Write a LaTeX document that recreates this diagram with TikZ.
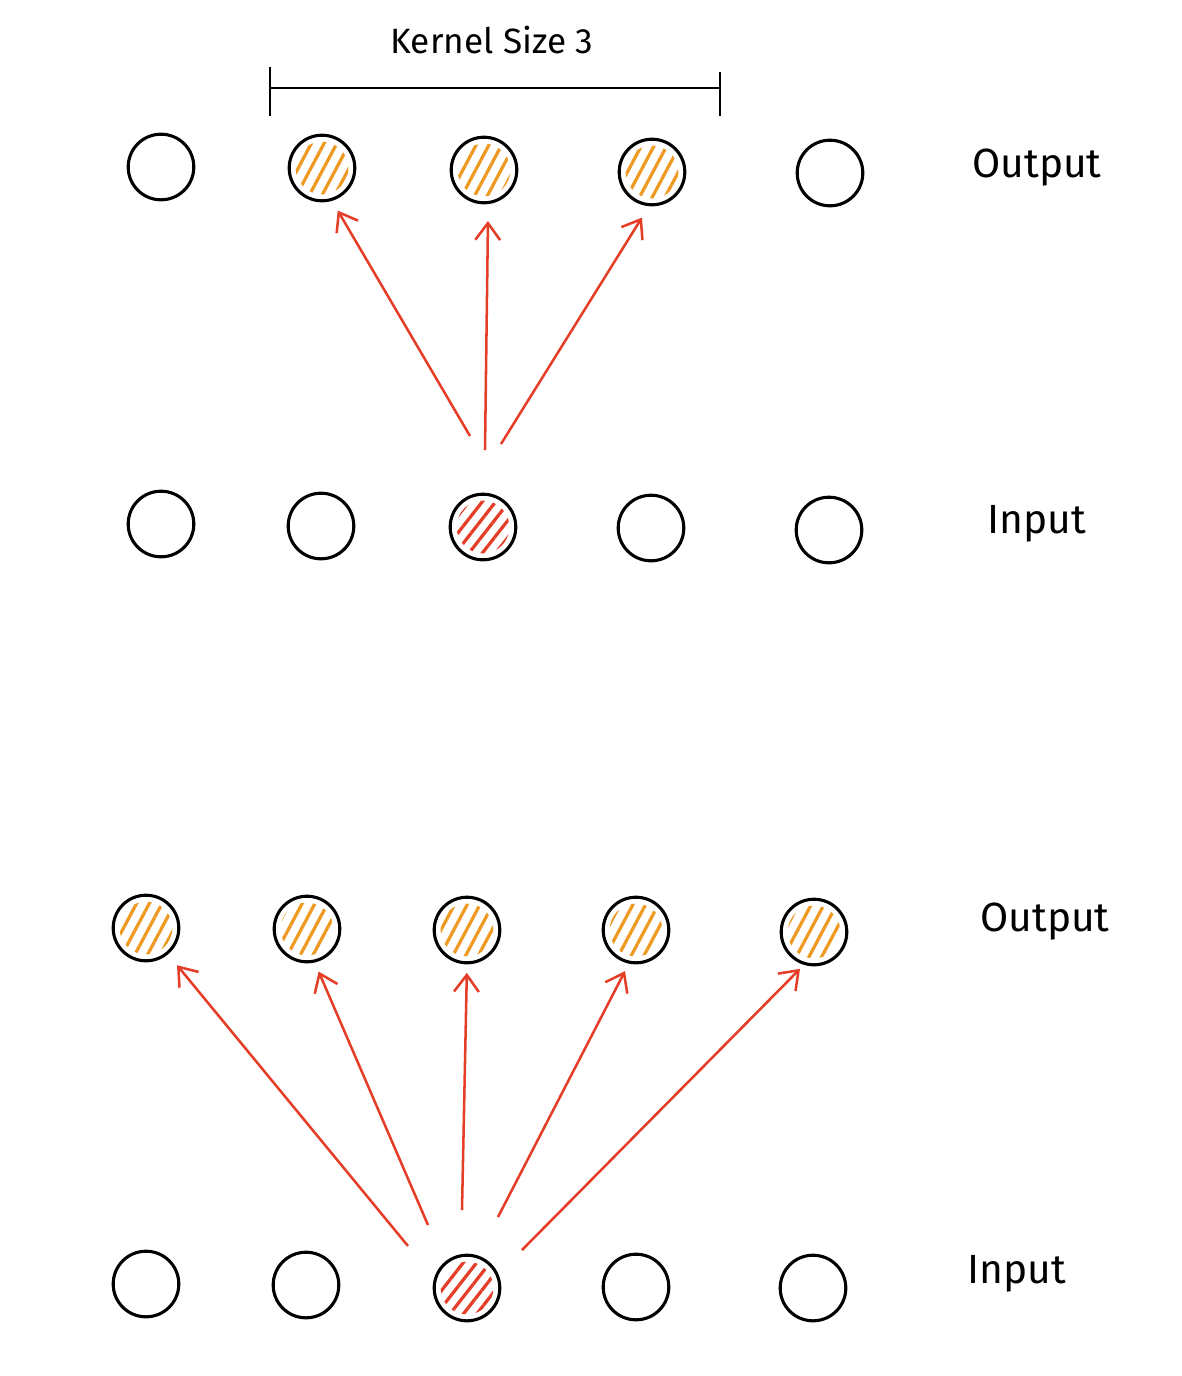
\documentclass[tikz,border=0pt]{standalone}
\usepackage{fontspec}
\setmainfont{Fira Sans}
\usepackage{tikz}
\usetikzlibrary{arrows.meta, patterns.meta}
\definecolor{hatchorange}{RGB}{238,154,34}
\definecolor{arrowred}{RGB}{228,62,40}

\begin{document}
\begin{tikzpicture}[x=0.025cm, y=-0.025cm,
    cell/.style={circle, draw=black, line width=2.2pt, minimum size=1.64cm, inner sep=0pt},
    outcell/.style={cell, path picture={\fill[pattern={Lines[angle=62, distance=8pt, line width=2.3pt]}, pattern color=hatchorange]
      (path picture bounding box.center) circle (0.66cm);}},
    incell/.style={cell, path picture={\fill[pattern={Lines[angle=52, distance=7.5pt, line width=2.3pt]}, pattern color=arrowred]
      (path picture bounding box.center) circle (0.66cm);}},
    lbl/.style={font=\fontsize{29}{34}\selectfont},
    conn/.style={draw=arrowred, line width=1.8pt, -{Straight Barb[length=4.2mm, width=6.2mm, line width=1.8pt]}}
  ]
    \useasboundingbox (0,0) rectangle (1182,1376);

    % kernel bracket
    \coordinate (kl) at (270,88);
    \coordinate (kr) at (720,88);
    \draw[line width=2pt] (270,67) -- (270,116);
    \draw[line width=2pt] (720,72) -- (720,116);
    \draw[line width=2pt] (kl) -- (kr);
    \node[lbl, font=\fontsize{25}{30}\selectfont] (ks) at (492,40) {Kernel Size 3};

    % top part
    \node[cell] (a1) at (161,167) {};
    \node[outcell] (a2) at (322,168) {};
    \node[outcell] (a3) at (484,170) {};
    \node[outcell] (a4) at (652,172) {};
    \node[cell] (a5) at (830,173) {};
    \node[cell] (b1) at (161,524) {};
    \node[cell] (b2) at (321,526) {};
    \node[incell] (b3) at (483,527) {};
    \node[cell] (b4) at (651,528) {};
    \node[cell] (b5) at (829,530) {};
    \node[lbl] (aout) at (1037,168) {Output};
    \node[lbl] (bin) at (1037,524) {Input};

    \coordinate (t1) at (470,436);
    \coordinate (t2) at (485,450);
    \coordinate (t3) at (501,444);
    \draw[conn, shorten >=8pt] (t1) -- (a2.-73);
    \draw[conn, shorten >=12pt] (t2) -- (a3.-83);
    \draw[conn, shorten >=9.5pt] (t3) -- (a4.-95);

    % bottom part
    \node[outcell] (c1) at (146,928) {};
    \node[outcell] (c2) at (307,929) {};
    \node[outcell] (c3) at (467,930) {};
    \node[outcell] (c4) at (636,930) {};
    \node[outcell] (c5) at (814,932) {};
    \node[cell] (d1) at (146,1284) {};
    \node[cell] (d2) at (306,1285) {};
    \node[incell] (d3) at (467,1288) {};
    \node[cell] (d4) at (636,1287) {};
    \node[cell] (d5) at (813,1288) {};
    \node[lbl] (cout) at (1045,922) {Output};
    \node[lbl] (din) at (1017,1274) {Input};

    \coordinate (s1) at (408,1246);
    \coordinate (s2) at (428,1225);
    \coordinate (s3) at (462,1210);
    \coordinate (s4) at (498,1217);
    \coordinate (s5) at (522,1250);
    %\foreach \i in {1,...,5} \fill (s\i) circle (2pt);
    \draw[conn, shorten >=10pt] (s1) -- (c1.-50);
    \draw[conn, shorten >=7pt] (s2) -- (c2.-77);
    \draw[conn, shorten >=6pt] (s3) -- (c3.-90);
    \draw[conn, shorten >=6pt] (s4) -- (c4.-102);
    \draw[conn, shorten >=4pt] (s5) -- (c5.-107);
\end{tikzpicture}
\end{document}
